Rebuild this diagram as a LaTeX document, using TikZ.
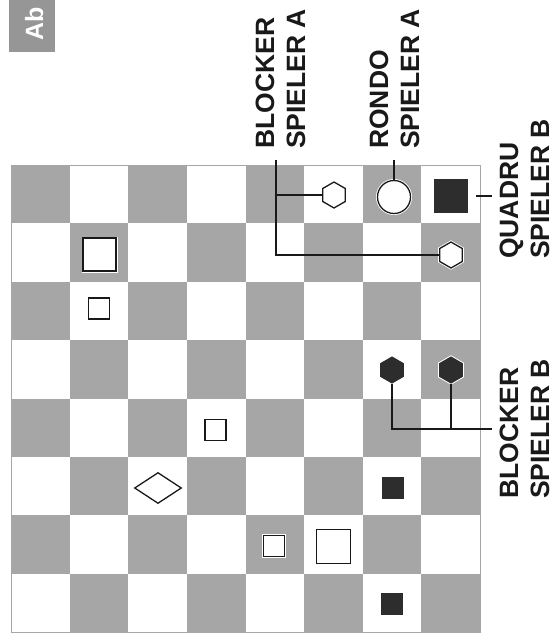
\documentclass[tikz,border=0pt]{standalone}
\usepackage{fontspec}
\setmainfont{Liberation Sans}
\usetikzlibrary{shapes.geometric}
\definecolor{boardgray}{RGB}{166,166,166}
\definecolor{abgray}{RGB}{150,150,150}
\definecolor{piecedark}{RGB}{45,45,45}
\definecolor{inkblack}{RGB}{25,25,25}
\begin{document}
\begin{tikzpicture}[x=1pt,y=-1pt,
  sq/.style={draw=inkblack,line width=1.3pt,fill=white,inner sep=0pt,minimum size=#1},
  bsq/.style={draw=piecedark,fill=piecedark,line width=0.8pt,inner sep=0pt,minimum size=#1},
  hexw/.style={regular polygon,regular polygon sides=6,shape border rotate=30,draw=inkblack,fill=white,line width=1.3pt,inner sep=0pt,minimum size=26pt},
  hexb/.style={regular polygon,regular polygon sides=6,shape border rotate=30,draw=piecedark,fill=piecedark,line width=1pt,inner sep=0pt,minimum size=26pt},
  halo/.style={preaction={draw=white,line width=3pt}},
  conn/.style={draw=inkblack,line width=1.2pt},
  lbl/.style={rotate=90,anchor=base west,align=left,inner sep=0pt,font=\bfseries\fontsize{26.5}{31}\selectfont,text=inkblack},
]
\useasboundingbox (0,0) rectangle (556,634);
% board
\foreach \c in {0,...,7}{\foreach \r in {0,...,7}{
  \pgfmathtruncatemacro\s{mod(\c+\r,2)}
  \ifnum\s=0 \fill[boardgray] ({11+58.625*\c},{165+58.375*\r}) rectangle ++(58.625,58.375); \fi
}}
\draw[boardgray,line width=0.8pt] (11,165) rectangle (480,632);
% Ab box
\fill[abgray] (9,0) rectangle (55,52);
\node[rotate=90,anchor=base west,inner sep=0pt,text=white,font=\bfseries\fontsize{25}{30}\selectfont] (ab) at (43,41) {Ab};
% pieces
\node[hexw] (hexA1) at (334,195) {};
\node[hexw,halo] (hexA2) at (451,255) {};
\node[circle,draw=inkblack,line width=1.3pt,fill=white,inner sep=0pt,minimum size=33pt,halo] (rondo) at (394,197) {};
\node[bsq=33pt] (quad) at (451,196) {};
\node[sq=33pt,halo] (s1) at (99.5,254.5) {};
\node[sq=21pt] (s2) at (99,308.5) {};
\node[hexb] (hexB1) at (392,370) {};
\node[hexb,halo] (hexB2) at (451,370) {};
\node[sq=21pt] (s3) at (215.5,430) {};
\node[diamond,draw=inkblack,line width=1.3pt,fill=white,inner sep=0pt,minimum width=47pt,minimum height=31pt] (dia) at (158,488) {};
\node[bsq=21pt] (b1) at (393,488) {};
\node[sq=21pt,halo] (s4) at (274,546) {};
\node[sq=34pt] (s5) at (333.5,546.5) {};
\node[bsq=21pt] (b2) at (392,604) {};
% labels (anchor is the baseline of the last line)
\node[lbl] (lblA) at (305,149) {BLOCKER\\SPIELER A};
\node[lbl] (lblR) at (419,149) {RONDO\\SPIELER A};
\node[lbl] (lblQ) at (549,259) {QUADRU\\SPIELER B};
\node[lbl] (lblB) at (549,499) {BLOCKER\\SPIELER B};
% connectors
\coordinate (cA) at (276,160);
\draw[conn] (cA) |- (hexA2.west);
\draw[conn] (cA |- hexA1) -- (hexA1.west);
\coordinate (cR) at (394,160);
\draw[conn] (cR) -- (cR |- rondo.north);
\coordinate (cQ) at (492,196);
\draw[conn] ([xshift=8pt]quad.east) -- (cQ);
\coordinate (cB) at (492,429);
\draw[conn] (hexB1.south) |- (cB);
\draw[conn] (hexB2.south) -- (hexB2 |- cB);
\end{tikzpicture}
\end{document}
